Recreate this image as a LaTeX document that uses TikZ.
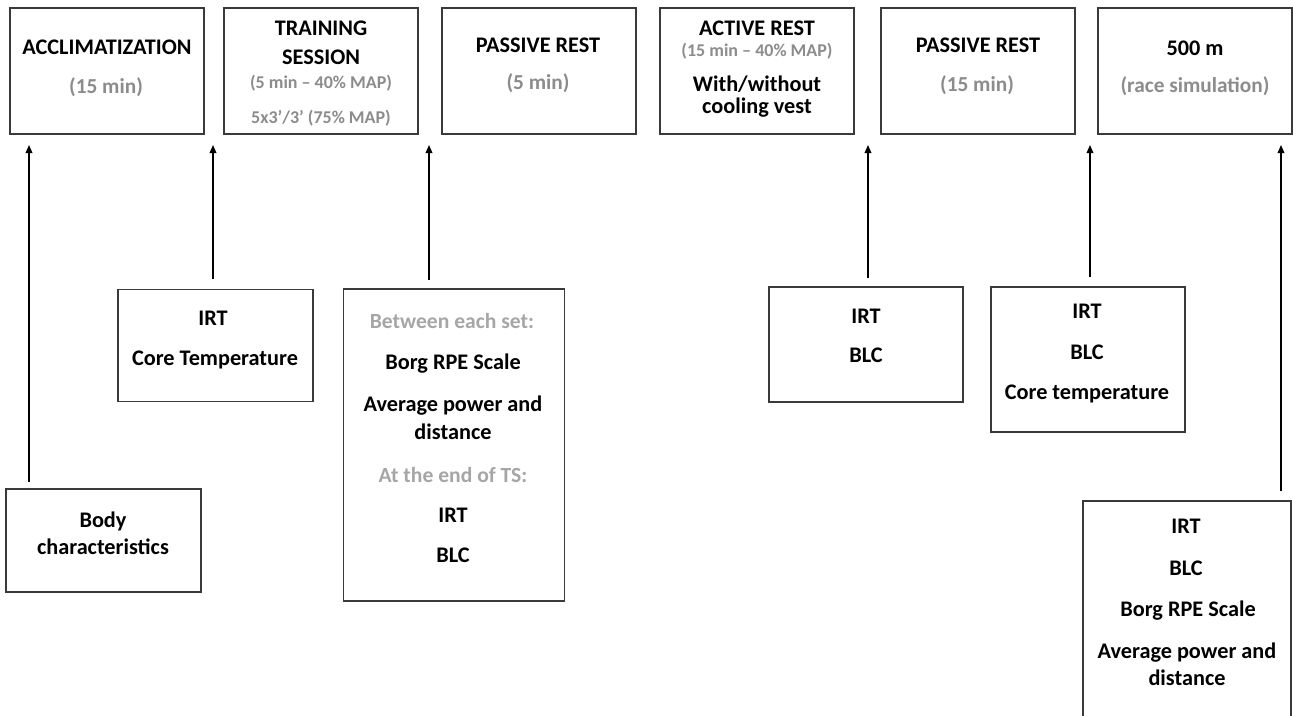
\documentclass[tikz,border=0pt]{standalone}
\usepackage{fontspec}
\setmainfont{Carlito}
\usetikzlibrary{arrows.meta}
\definecolor{boxline}{HTML}{3A3A3A}
\definecolor{gtxt}{HTML}{8C8C8C}
\definecolor{ltxt}{HTML}{A6A6A6}
\tikzset{
  bx/.style 2 args={draw=boxline, line width=1.1pt, fill=none, inner sep=0pt,
    minimum width=#1*0.75pt, minimum height=#2*0.75pt},
  tb/.style={anchor=base, inner sep=0pt, font=\fontsize{16.7}{19}\selectfont\bfseries, text=black},
  tg/.style={anchor=base, inner sep=0pt, font=\fontsize{16.0}{19}\selectfont\bfseries, text=gtxt},
  ts/.style={anchor=base, inner sep=0pt, font=\fontsize{13.5}{16}\selectfont\bfseries, text=gtxt},
  tl/.style={anchor=base, inner sep=0pt, font=\fontsize{16.2}{19}\selectfont\bfseries, text=ltxt},
  arr/.style={line width=0.95pt, -{Triangle[length=6pt, width=5pt]}},
}
\begin{document}
\begin{tikzpicture}[x=0.75pt,y=-0.75pt]
\clip (0,0) rectangle (1293,715);
\fill[white] (0,0) rectangle (1293,715);

% top row boxes
\node[bx={194}{126}] (b1) at (107,71) {};
\node[bx={194}{126}] (b2) at (321,71) {};
\node[bx={194}{126}] (b3) at (539,71) {};
\node[bx={194}{126}] (b4) at (757,71) {};
\node[bx={194}{126}] (b5) at (978,71) {};
\node[bx={194}{126}] (b6) at (1195,71) {};

% lower boxes
\node[bx={195}{103}] (c1) at (103.5,540.5) {};
\node[bx={195}{112}] (c2) at (215.5,345.5) {};
\node[bx={221}{312}] (c3) at (454,445) {};
\node[bx={194}{115}] (c4) at (866,344.5) {};
\node[bx={194}{145}] (c5) at (1088,359.5) {};
\node[bx={208}{260}] (c6) at (1187,631) {};

% top texts
\node[tb] (t1a) at (107,54) {ACCLIMATIZATION};
\node[tg] (t1b) at (106,93) {(15 min)};
\node[tb] (t2a) at (321,35) {TRAINING};
\node[tb] (t2b) at (321,64) {SESSION};
\node[ts] (t2c) at (321,88) {(5 min – 40\% MAP)};
\node[ts] (t2d) at (321,123) {5x3’/3’ (75\% MAP)};
\node[tb] (t3a) at (538,52) {PASSIVE REST};
\node[tg] (t3b) at (538,89) {(5 min)};
\node[tb] (t4a) at (757,35) {ACTIVE REST};
\node[ts] (t4b) at (757,56) {(15 min – 40\% MAP)};
\node[tb] (t4c) at (757,91) {With/without};
\node[tb] (t4d) at (757,113) {cooling vest};
\node[tb] (t5a) at (978,52) {PASSIVE REST};
\node[tg] (t5b) at (977,91) {(15 min)};
\node[tb] (t6a) at (1195,55) {500 m};
\node[tg] (t6b) at (1195,92) {(race simulation)};

% lower texts
\node[tb] (u1a) at (103,527) {Body};
\node[tb] (u1b) at (103,554) {characteristics};
\node[tb] (u2a) at (213,325) {IRT};
\node[tb] (u2b) at (215,365) {Core Temperature};
\node[tl] (u3a) at (452,328) {Between each set:};
\node[tb] (u3b) at (453,369) {Borg RPE Scale};
\node[tb] (u3c) at (453,411) {Average power and};
\node[tb] (u3d) at (453,439) {distance};
\node[tl] (u3e) at (453,482) {At the end of TS:};
\node[tb] (u3f) at (453,522) {IRT};
\node[tb] (u3g) at (453,562) {BLC};
\node[tb] (u4a) at (866,323) {IRT};
\node[tb] (u4b) at (866,362) {BLC};
\node[tb] (u5a) at (1087,318) {IRT};
\node[tb] (u5b) at (1087,359) {BLC};
\node[tb] (u5c) at (1087,399) {Core temperature};
\node[tb] (u6a) at (1186,533) {IRT};
\node[tb] (u6b) at (1186,575) {BLC};
\node[tb] (u6c) at (1188,616) {Borg RPE Scale};
\node[tb] (u6d) at (1187,658) {Average power and};
\node[tb] (u6e) at (1187,685) {distance};

% arrows
\coordinate (s1) at (29,482);  \coordinate (e1) at (29,145);
\coordinate (s2) at (213,279); \coordinate (e2) at (213,145);
\coordinate (s3) at (429,280); \coordinate (e3) at (429,145);
\coordinate (s4) at (868,278); \coordinate (e4) at (868,145);
\coordinate (s5) at (1090,277);\coordinate (e5) at (1090,145);
\coordinate (s6) at (1281,491);\coordinate (e6) at (1281,145);
\foreach \i in {1,...,6} {\draw[arr] (s\i) -- (e\i);}
\end{tikzpicture}
\end{document}
